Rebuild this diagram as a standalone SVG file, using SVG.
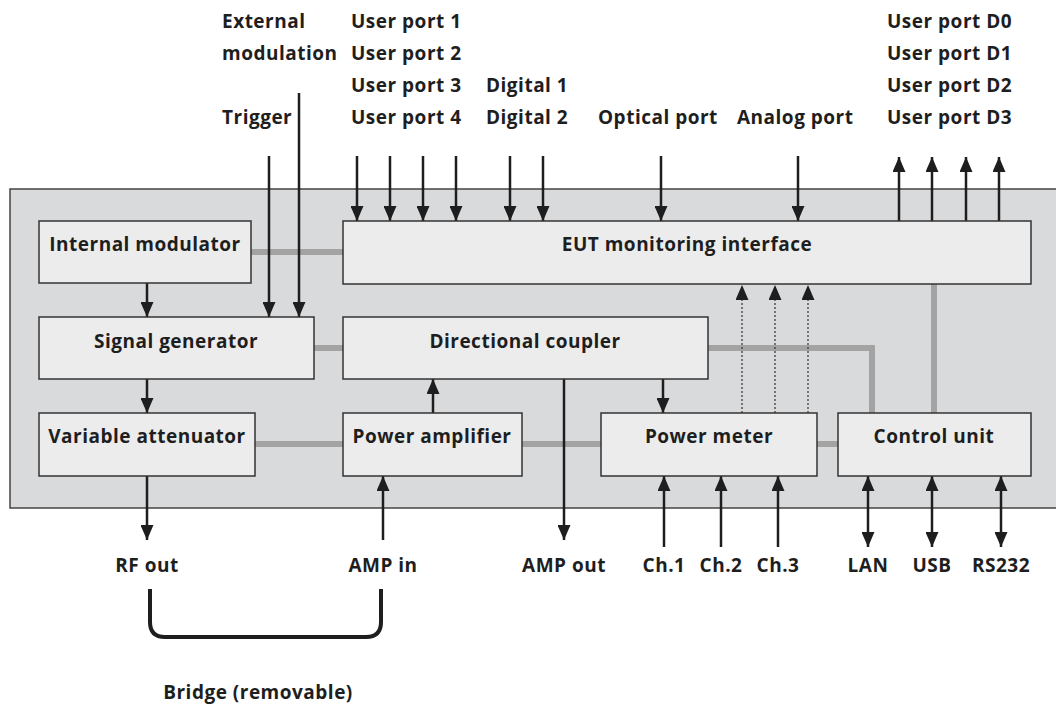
<svg xmlns="http://www.w3.org/2000/svg" width="1056" height="705" viewBox="0 0 1056 705">
<defs>
<style>
text{font-family:"Open Sans","Noto Sans","Liberation Sans",sans-serif;font-weight:bold;font-size:19px;letter-spacing:0.5px;fill:#1e1e1e}
.m{text-anchor:middle}
.box{fill:#ececec;stroke:#333;stroke-width:1.5}
.bus{stroke:#a3a3a3;stroke-width:6;fill:none}
.sig{stroke:#1e1e1e;stroke-width:2.5;fill:none}
.dot{stroke:#333;stroke-width:1.2;stroke-dasharray:2 2;fill:none}
</style>
<marker id="ah" viewBox="0 0 15 13" refX="15" refY="6.5" markerWidth="15" markerHeight="13" markerUnits="userSpaceOnUse" orient="auto-start-reverse">
<path d="M0,0 L15,6.5 L0,13 z" fill="#1e1e1e"/>
</marker>
</defs>
<rect width="1056" height="705" fill="#fff"/>
<rect id="panel" x="10" y="189" width="1060" height="319" fill="#d9dadc" stroke="#444" stroke-width="1.5"/>

<g id="connectors">
<!-- gray buses -->
<line class="bus" x1="251" y1="252" x2="343" y2="252"/>
<line class="bus" x1="314" y1="348" x2="343" y2="348"/>
<line class="bus" x1="255" y1="444" x2="343" y2="444"/>
<line class="bus" x1="522" y1="444" x2="601" y2="444"/>
<line class="bus" x1="817" y1="444" x2="838" y2="444"/>
<polyline class="bus" points="708,348 872,348 872,413"/>
<line class="bus" x1="934" y1="284" x2="934" y2="413"/>
<!-- internal signal arrows -->
<line class="sig" x1="147" y1="283" x2="147" y2="317" marker-end="url(#ah)"/>
<line class="sig" x1="147" y1="379" x2="147" y2="413" marker-end="url(#ah)"/>
<line class="sig" x1="433" y1="413" x2="433" y2="379" marker-end="url(#ah)"/>
<line class="sig" x1="663" y1="379" x2="663" y2="413" marker-end="url(#ah)"/>
<line class="sig" x1="564" y1="379" x2="564" y2="540" marker-end="url(#ah)"/>
<!-- top inputs -->
<line class="sig" x1="269" y1="156" x2="269" y2="317" marker-end="url(#ah)"/>
<line class="sig" x1="299" y1="93" x2="299" y2="317" marker-end="url(#ah)"/>
<line class="sig" x1="357" y1="156" x2="357" y2="221" marker-end="url(#ah)"/>
<line class="sig" x1="390" y1="156" x2="390" y2="221" marker-end="url(#ah)"/>
<line class="sig" x1="423" y1="156" x2="423" y2="221" marker-end="url(#ah)"/>
<line class="sig" x1="456" y1="156" x2="456" y2="221" marker-end="url(#ah)"/>
<line class="sig" x1="510" y1="156" x2="510" y2="221" marker-end="url(#ah)"/>
<line class="sig" x1="543" y1="156" x2="543" y2="221" marker-end="url(#ah)"/>
<line class="sig" x1="661" y1="156" x2="661" y2="221" marker-end="url(#ah)"/>
<line class="sig" x1="798" y1="156" x2="798" y2="221" marker-end="url(#ah)"/>
<!-- top outputs -->
<line class="sig" x1="899" y1="221" x2="899" y2="157" marker-end="url(#ah)"/>
<line class="sig" x1="932" y1="221" x2="932" y2="157" marker-end="url(#ah)"/>
<line class="sig" x1="966" y1="221" x2="966" y2="157" marker-end="url(#ah)"/>
<line class="sig" x1="999" y1="221" x2="999" y2="157" marker-end="url(#ah)"/>
<!-- dotted measurement arrows -->
<line class="dot" x1="742" y1="413" x2="742" y2="285" marker-end="url(#ah)"/>
<line class="dot" x1="775" y1="413" x2="775" y2="285" marker-end="url(#ah)"/>
<line class="dot" x1="808" y1="413" x2="808" y2="285" marker-end="url(#ah)"/>
<!-- bottom -->
<line class="sig" x1="147" y1="476" x2="147" y2="540" marker-end="url(#ah)"/>
<line class="sig" x1="383" y1="540" x2="383" y2="476" marker-end="url(#ah)"/>
<line class="sig" x1="664" y1="547" x2="664" y2="476" marker-end="url(#ah)"/>
<line class="sig" x1="721" y1="547" x2="721" y2="476" marker-end="url(#ah)"/>
<line class="sig" x1="778" y1="547" x2="778" y2="476" marker-end="url(#ah)"/>
<line class="sig" x1="868" y1="547" x2="868" y2="476" marker-start="url(#ah)" marker-end="url(#ah)"/>
<line class="sig" x1="932" y1="547" x2="932" y2="476" marker-start="url(#ah)" marker-end="url(#ah)"/>
<line class="sig" x1="1001" y1="547" x2="1001" y2="476" marker-start="url(#ah)" marker-end="url(#ah)"/>
<!-- bridge -->
<path d="M150,589 V622 Q150,637 165,637 H366 Q381,637 381,622 V589" fill="none" stroke="#1e1e1e" stroke-width="4"/>
</g>

<g id="internal-modulator"><rect class="box" x="39" y="221" width="212" height="62"/><text class="m" x="145" y="251">Internal modulator</text></g>
<g id="signal-generator"><rect class="box" x="39" y="317" width="275" height="62"/><text class="m" x="176" y="348">Signal generator</text></g>
<g id="variable-attenuator"><rect class="box" x="39" y="413" width="216" height="63"/><text class="m" x="147" y="443">Variable attenuator</text></g>
<g id="eut-interface"><rect class="box" x="343" y="221" width="688" height="63"/><text class="m" x="687" y="251">EUT monitoring interface</text></g>
<g id="directional-coupler"><rect class="box" x="343" y="317" width="365" height="62"/><text class="m" x="525" y="348">Directional coupler</text></g>
<g id="power-amplifier"><rect class="box" x="343" y="413" width="179" height="63"/><text class="m" x="432" y="443">Power amplifier</text></g>
<g id="power-meter"><rect class="box" x="601" y="413" width="216" height="63"/><text class="m" x="709" y="443">Power meter</text></g>
<g id="control-unit"><rect class="box" x="838" y="413" width="193" height="63"/><text class="m" x="934" y="443">Control unit</text></g>

<g id="labels">
<text x="222" y="28">External</text>
<text x="222" y="60">modulation</text>
<text x="222" y="124">Trigger</text>
<text x="351" y="28">User port 1</text>
<text x="351" y="60">User port 2</text>
<text x="351" y="92">User port 3</text>
<text x="351" y="124">User port 4</text>
<text x="486" y="92">Digital 1</text>
<text x="486" y="124">Digital 2</text>
<text x="598" y="124">Optical port</text>
<text x="737" y="124">Analog port</text>
<text x="887" y="28">User port D0</text>
<text x="887" y="60">User port D1</text>
<text x="887" y="92">User port D2</text>
<text x="887" y="124">User port D3</text>
<text class="m" x="147" y="572">RF out</text>
<text class="m" x="383" y="572">AMP in</text>
<text class="m" x="564" y="572">AMP out</text>
<text class="m" x="664" y="572">Ch.1</text>
<text class="m" x="721" y="572">Ch.2</text>
<text class="m" x="778" y="572">Ch.3</text>
<text class="m" x="868" y="572">LAN</text>
<text class="m" x="932" y="572">USB</text>
<text class="m" x="1001" y="572">RS232</text>
<text class="m" x="258" y="699">Bridge (removable)</text>
</g>
</svg>
